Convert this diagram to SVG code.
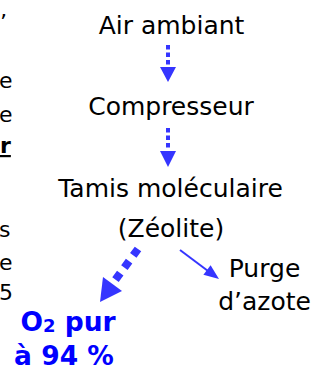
<svg xmlns="http://www.w3.org/2000/svg" width="327" height="371" viewBox="0 0 327 371">
<style>
.t{font-family:"DejaVu Sans","Liberation Sans",sans-serif;font-size:25px;fill:#000}
.m{text-anchor:middle}
.f{font-family:"DejaVu Sans","Liberation Sans",sans-serif;font-size:22px;fill:#000}
.b{font-family:"DejaVu Sans","Liberation Sans",sans-serif;font-size:26.5px;font-weight:bold;fill:#0000ff;text-anchor:middle}
.dv{stroke:#3535ff;stroke-width:4;stroke-dasharray:4.5 3;fill:none}
.dd{stroke:#3535ff;stroke-width:8;stroke-dasharray:8 7;fill:none}
.sl{stroke:#3535ff;stroke-width:2;fill:none}
.h{fill:#3535ff}
</style>
<rect width="327" height="371" fill="#fff"/>
<g id="fragments">
<text class="f" x="0" y="30">’</text>
<text class="f" x="-1" y="88">e</text>
<text class="f" x="-1" y="122">e</text>
<text class="f" x="0" y="153" font-weight="bold" text-decoration="underline">r</text>
<text class="f" x="-1" y="237">s</text>
<text class="f" x="-1" y="270">e</text>
<text class="f" x="-1" y="300">5</text>
</g>
<g id="air"><text class="t m" x="171.5" y="34">Air ambiant</text></g>
<g id="compresseur"><text class="t m" x="171" y="115">Compresseur</text></g>
<g id="tamis">
<text class="t m" x="170.5" y="197">Tamis moléculaire</text>
<text class="t m" x="171" y="237">(Zéolite)</text>
</g>
<g id="purge">
<text class="t m" x="264.5" y="277">Purge</text>
<text class="t m" x="264.5" y="310">d’azote</text>
</g>
<g id="o2">
<text class="b" x="68" y="331">O<tspan font-size="18" dy="1">2</tspan><tspan dy="-1"> pur</tspan></text>
<text class="b" x="64" y="364.5">à 94 %</text>
</g>
<g id="connectors">
<line class="dv" x1="168" y1="45" x2="168" y2="66"/>
<polygon class="h" points="160,67 176,67 168,82"/>
<line class="dv" x1="168" y1="128" x2="168" y2="150"/>
<polygon class="h" points="160,151 176,151 168,167"/>
<line class="dd" x1="138" y1="249" x2="113" y2="283"/>
<polygon class="h" points="100,302 103,277 122,291"/>
<line class="sl" x1="180" y1="250" x2="208" y2="271"/>
<polygon class="h" points="219,279 203.4,274.8 210.6,265.2"/>
</g>
</svg>
